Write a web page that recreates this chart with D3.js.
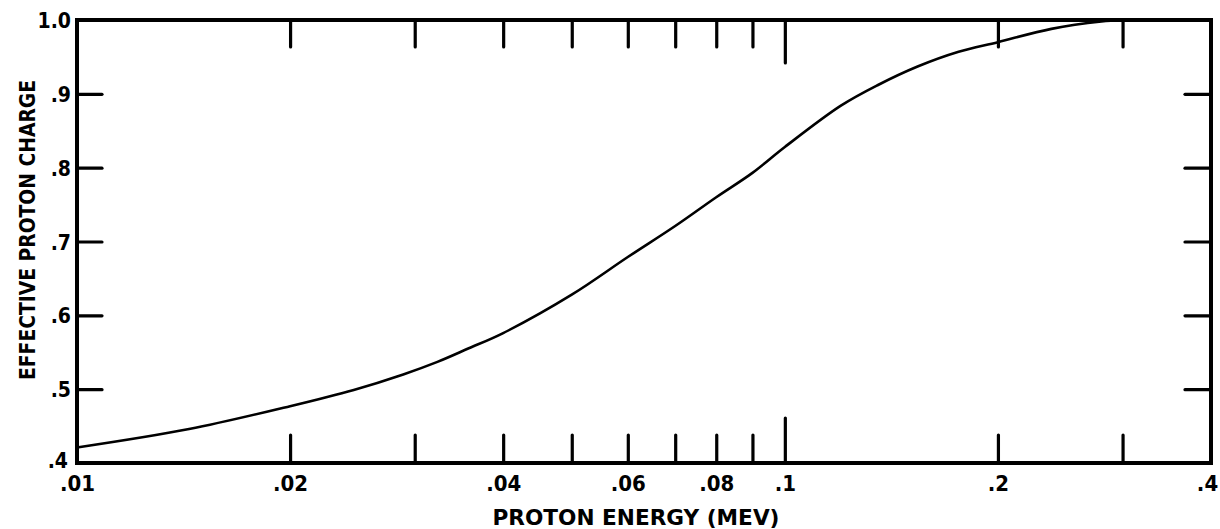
<!DOCTYPE html>
<html>
<head>
<meta charset="utf-8">
<script src="https://cdn.jsdelivr.net/npm/d3@7"></script>
<style>
  html, body { margin: 0; padding: 0; background: #fff; }
  svg { display: block; }
  text { font-family: "Liberation Sans Narrow", "DejaVu Sans Condensed", "Liberation Sans", sans-serif; fill: #000; }
</style>
</head>
<body>
<svg id="chart" width="1220" height="529"></svg>
<script>
// Effective proton charge versus proton energy (MeV), log energy axis
const energy = [0.01, 0.0144, 0.02, 0.0246, 0.0289, 0.0323, 0.0357, 0.04, 0.05, 0.06, 0.07, 0.08, 0.09, 0.1, 0.12, 0.1354, 0.154, 0.176, 0.2, 0.238, 0.28, 0.3];
const charge = [0.421, 0.446, 0.477, 0.499, 0.520, 0.537, 0.555, 0.576, 0.628, 0.679, 0.721, 0.760, 0.793, 0.828, 0.884, 0.912, 0.937, 0.957, 0.970, 0.988, 0.998, 1.0];

const xTickValues = [0.02, 0.03, 0.04, 0.05, 0.06, 0.07, 0.08, 0.09, 0.1, 0.2, 0.3];
const xLabelValues = [0.01, 0.02, 0.04, 0.06, 0.08, 0.1, 0.2, 0.4];
const xLabelText = [".01", ".02", ".04", ".06", ".08", ".1", ".2", ".4"];
const yTickValues = [0.5, 0.6, 0.7, 0.8, 0.9];
const yLabelValues = [0.4, 0.5, 0.6, 0.7, 0.8, 0.9, 1.0];
const yLabelText = [".4", ".5", ".6", ".7", ".8", ".9", "1.0"];

const xTitle = "PROTON ENERGY (MEV)";
const yTitle = "EFFECTIVE  PROTON  CHARGE";

const plotLeft = 77, plotRight = 1211, plotTop = 20, plotBottom = 463;

const svg = d3.select("#chart");

const x = d3.scaleLog().domain([0.01, 0.4]).range([plotLeft, plotRight]);
const y = d3.scaleLinear().domain([0.4, 1.0]).range([plotBottom, plotTop]);

const tickStroke = 3.2;

// inward ticks on all four sides
function styleTicks(g) {
  g.select(".domain").remove();
  g.selectAll(".tick line").attr("stroke", "#000").attr("stroke-width", tickStroke).attr("stroke-linecap", "round");
  g.selectAll(".tick text").remove();
}

svg.append("g")
  .attr("transform", `translate(0,${plotBottom})`)
  .call(d3.axisBottom(x).tickValues(xTickValues).tickSizeInner(-28).tickSizeOuter(0))
  .call(styleTicks)
  .call(g => g.selectAll(".tick line").filter(d => d === 0.1).attr("y2", -45));

svg.append("g")
  .attr("transform", `translate(0,${plotTop})`)
  .call(d3.axisTop(x).tickValues(xTickValues).tickSizeInner(-27).tickSizeOuter(0))
  .call(styleTicks)
  .call(g => g.selectAll(".tick line").filter(d => d === 0.1).attr("y2", 43));

svg.append("g")
  .attr("transform", `translate(${plotLeft},0)`)
  .call(d3.axisLeft(y).tickValues(yTickValues).tickSizeInner(-25).tickSizeOuter(0))
  .call(styleTicks);

svg.append("g")
  .attr("transform", `translate(${plotRight},0)`)
  .call(d3.axisRight(y).tickValues(yTickValues).tickSizeInner(-26).tickSizeOuter(0))
  .call(styleTicks);

// frame
svg.append("rect")
  .attr("x", plotLeft).attr("y", plotTop)
  .attr("width", plotRight - plotLeft).attr("height", plotBottom - plotTop)
  .attr("fill", "none").attr("stroke", "#000").attr("stroke-width", 4);

// tick labels
const xLab = svg.append("g")
  .attr("transform", `translate(0,${plotBottom})`)
  .call(d3.axisBottom(x).tickValues(xLabelValues).tickSize(0).tickPadding(12)
    .tickFormat((d, i) => xLabelText[i]));
xLab.select(".domain").remove();
xLab.selectAll(".tick text")
  .attr("font-size", 22)
  .attr("font-weight", "bold")
  .attr("dy", "0.71em")
  .attr("dx", d => d === 0.4 ? -4 : 0);

const yLab = svg.append("g")
  .attr("transform", `translate(${plotLeft},0)`)
  .call(d3.axisLeft(y).tickValues(yLabelValues).tickSize(0).tickPadding(6)
    .tickFormat((d, i) => yLabelText[i]));
yLab.select(".domain").remove();
yLab.selectAll(".tick text")
  .attr("font-size", 21)
  .attr("font-weight", "bold")
  .attr("dy", "0.36em")
  .attr("dx", d => d === 0.4 ? -3 : 0)
  .attr("y", d => d === 0.4 ? -3 : 0);

// axis titles
svg.append("text")
  .attr("x", 636).attr("y", 525)
  .attr("text-anchor", "middle")
  .attr("font-size", 22)
  .attr("font-weight", "bold")
  .attr("textLength", 287)
  .attr("lengthAdjust", "spacingAndGlyphs")
  .text(xTitle);

svg.append("text")
  .attr("transform", "translate(35,230) rotate(-90)")
  .attr("text-anchor", "middle")
  .attr("font-size", 22)
  .attr("font-weight", "bold")
  .attr("textLength", 300)
  .attr("lengthAdjust", "spacingAndGlyphs")
  .text(yTitle);

// curve
const line = d3.line()
  .x((d, i) => x(energy[i]))
  .y(d => y(d))
  .curve(d3.curveCatmullRom.alpha(0.5));

svg.append("path")
  .datum(charge)
  .attr("d", line)
  .attr("fill", "none")
  .attr("stroke", "#000")
  .attr("stroke-width", 2.6)
  .attr("stroke-linejoin", "round");
</script>
</body>
</html>
